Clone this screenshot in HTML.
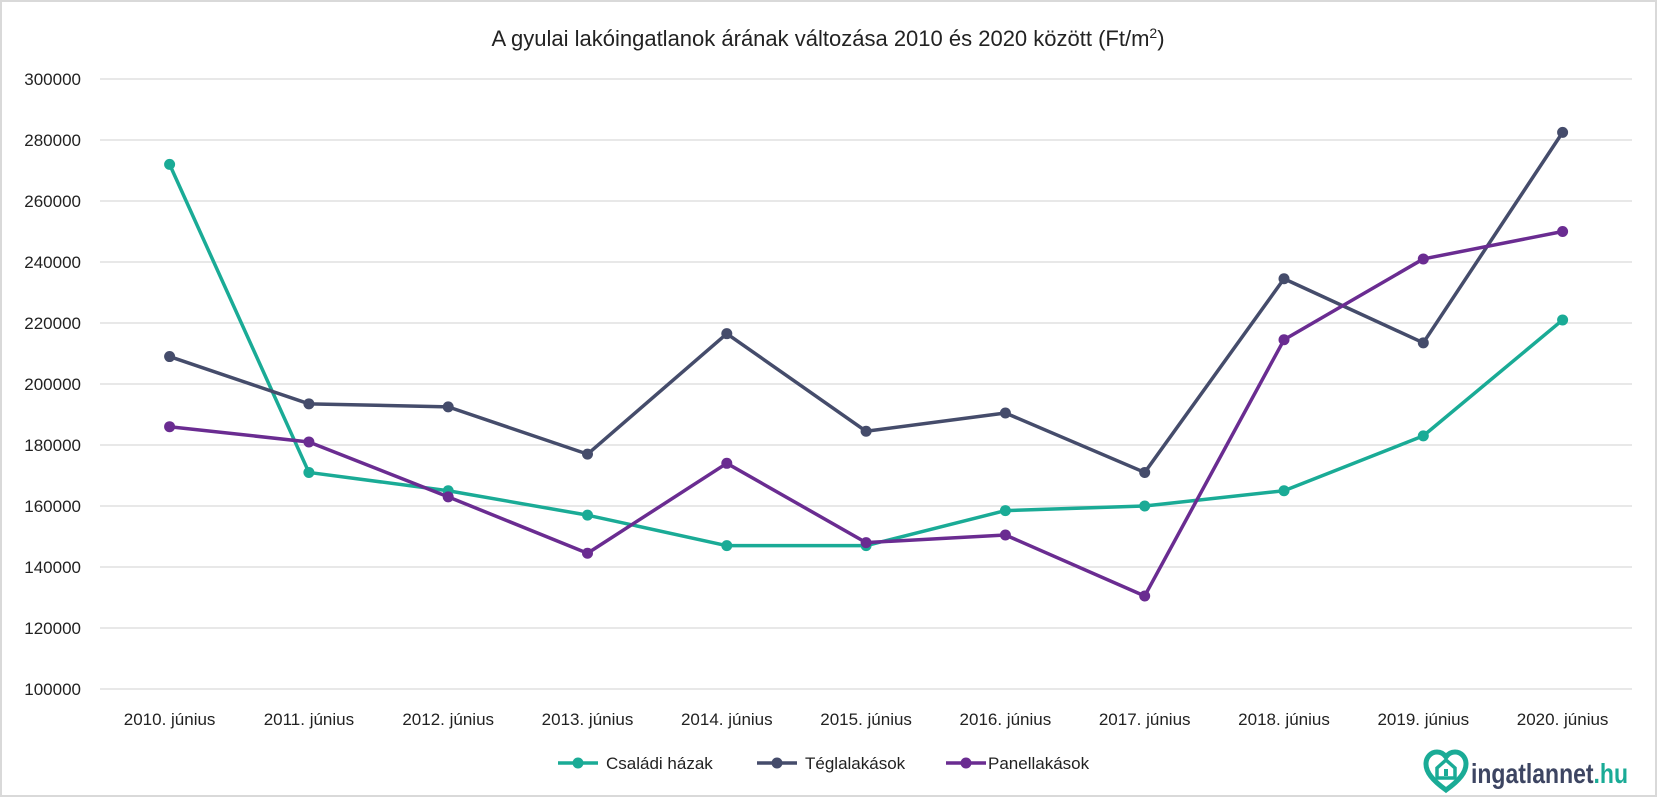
<!DOCTYPE html>
<html><head><meta charset="utf-8"><style>
html,body{margin:0;padding:0;background:#fff;}
svg{display:block;font-family:"Liberation Sans",sans-serif;}
</style></head><body>
<svg width="1657" height="797" viewBox="0 0 1657 797" xmlns="http://www.w3.org/2000/svg">
<rect x="1" y="1" width="1655" height="795" fill="#fff" stroke="#d9d9d9" stroke-width="2"/>
<text x="828" y="46" text-anchor="middle" font-size="22" fill="#222">A gyulai lakóingatlanok árának változása 2010 és 2020 között (Ft/m<tspan font-size="14" dy="-8">2</tspan><tspan dy="8">)</tspan></text>
<g id="grid" stroke="#d9d9d9" stroke-width="1.2"></g>
<g id="ylab" font-size="17" fill="#222" text-anchor="end"></g>
<g id="xlab" font-size="17" fill="#222" text-anchor="middle"></g>
<g id="series"></g>
<g font-size="17" fill="#222">
<line x1="558" y1="763" x2="598" y2="763" stroke="#1aab96" stroke-width="3.5"/><circle cx="578" cy="763" r="5.5" fill="#1aab96"/>
<text x="606" y="769">Családi házak</text>
<line x1="757" y1="763" x2="797" y2="763" stroke="#454c6b" stroke-width="3.5"/><circle cx="777" cy="763" r="5.5" fill="#454c6b"/>
<text x="805" y="769">Téglalakások</text>
<line x1="946" y1="763" x2="986" y2="763" stroke="#6a2c91" stroke-width="3.5"/><circle cx="966" cy="763" r="5.5" fill="#6a2c91"/>
<text x="988" y="769">Panellakások</text>
</g>
<g transform="translate(1426,754)">
<path d="M20 36 C6 26 0 18 0 10 C0 3 5 -2 11 -2 C15 -2 18 0 20 3 C22 0 25 -2 29 -2 C35 -2 40 3 40 10 C40 18 34 26 20 36 Z" fill="none" stroke="#1aab96" stroke-width="5"/>
<path d="M11 14 L20 6 L29 14 L29 24 L11 24 Z" fill="none" stroke="#1aab96" stroke-width="3.5"/>
<rect x="18" y="15" width="4" height="7" fill="#1aab96"/>
</g>
<text x="1471" y="783" font-size="28" font-weight="bold" fill="#3d4562" textLength="157" lengthAdjust="spacingAndGlyphs">ingatlannet<tspan fill="#1aab96">.hu</tspan></text>
</svg>
<script>
const ns="http://www.w3.org/2000/svg";
function el(p,t,a,txt){const e=document.createElementNS(ns,t);for(const k in a)e.setAttribute(k,a[k]);if(txt!==undefined)e.textContent=txt;document.getElementById(p).appendChild(e);return e;}
const y=v=>79+(300000-v)/20000*61;
const x=i=>169.6+i*139.3;
for(let v=100000;v<=300000;v+=20000){el("grid","line",{x1:100,x2:1632,y1:y(v),y2:y(v)});el("ylab","text",{x:81,y:y(v)+6},v);}
for(let i=0;i<11;i++)el("xlab","text",{x:x(i),y:725},(2010+i)+". június");
const S=[["#1aab96",[272000,171000,165000,157000,147000,147000,158500,160000,165000,183000,221000]],
["#454c6b",[209000,193500,192500,177000,216500,184500,190500,171000,234500,213500,282500]],
["#6a2c91",[186000,181000,163000,144500,174000,148000,150500,130500,214500,241000,250000]]];
for(const [c,d] of S){el("series","polyline",{points:d.map((v,i)=>x(i)+","+y(v)).join(" "),fill:"none",stroke:c,"stroke-width":3.5,"stroke-linejoin":"round"});
d.forEach((v,i)=>el("series","circle",{cx:x(i),cy:y(v),r:5.5,fill:c}));}
</script>
</body></html>
